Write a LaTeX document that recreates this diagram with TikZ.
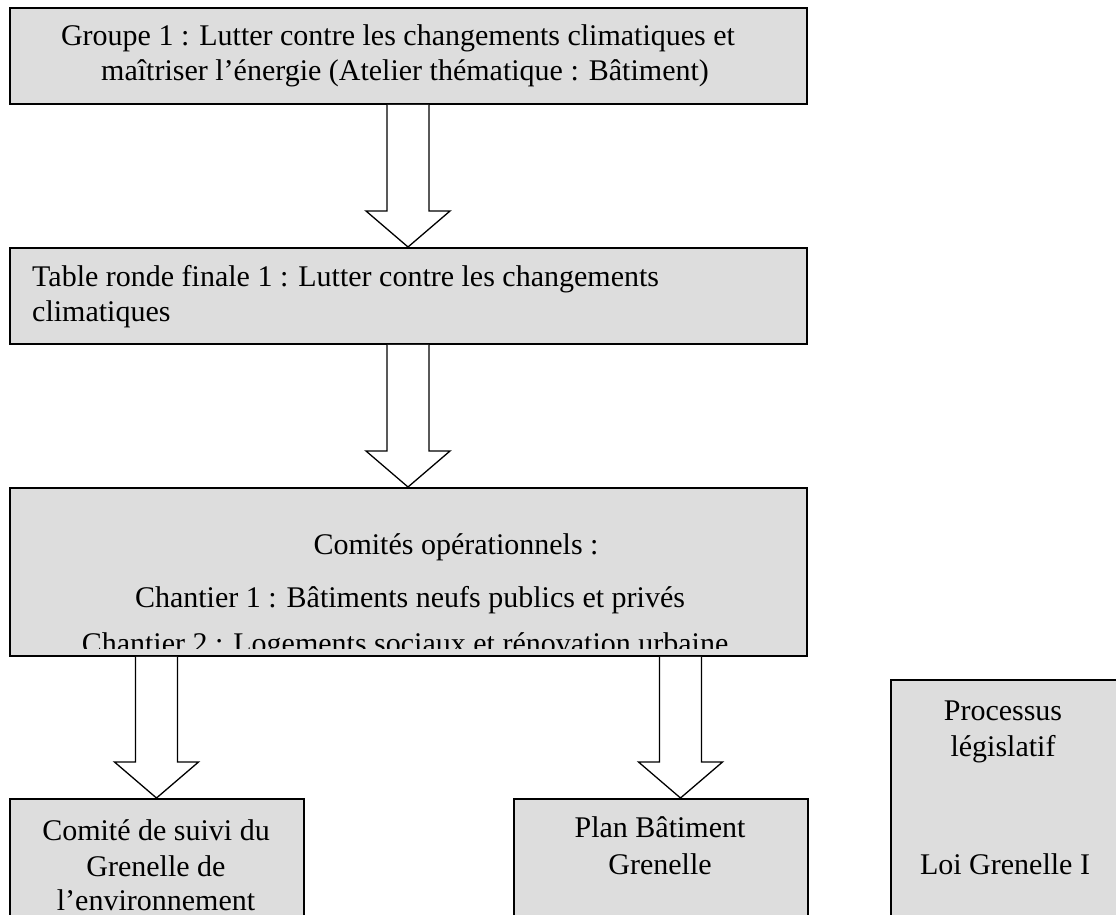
\documentclass[tikz,border=0pt]{standalone}
\usepackage{fontspec}
\setmainfont{Liberation Serif}
\usetikzlibrary{calc}
\definecolor{boxgray}{RGB}{221,221,221}
\newcommand\blockarrow[3]{%
  \draw[blk] let \p1=(#1.south -| #3), \p2=(#2.north -| #3) in
    (\x1-21pt,\y1) -- (\x1-21pt,\y2+36pt) -- (\x1-42pt,\y2+36pt) -- (\x1,\y2)
    -- (\x1+42pt,\y2+36pt) -- (\x1+21pt,\y2+36pt) -- (\x1+21pt,\y1);}
\begin{document}
\begin{tikzpicture}[x=1pt,y=-1pt,
  box/.style={draw=black, fill=boxgray, line width=1.8pt, rectangle, inner sep=0pt, anchor=north west},
  lbl/.style={inner sep=0pt, anchor=base, font=\fontsize{30}{36}\selectfont},
  lblw/.style={lbl, anchor=base west},
  blk/.style={draw=black, fill=white, line width=1.3pt, line join=miter}]
\useasboundingbox (0,0) rectangle (1116,915);
\clip (0,0) rectangle (1116,915);
% boxes
\node[box, minimum width=797pt, minimum height=96pt] (g1) at (9,7) {};
\node[box, minimum width=797pt, minimum height=96pt] (g2) at (9,247) {};
\node[box, minimum width=797pt, minimum height=168pt] (g3) at (9,487) {};
\node[box, minimum width=294pt, minimum height=140pt] (g4) at (9,798) {};
\node[box, minimum width=294pt, minimum height=140pt] (g5) at (513,798) {};
\node[box, minimum width=240pt, minimum height=260pt] (g6) at (890,679) {};
% arrow axes
\coordinate (a1) at (408,0);
\coordinate (a3) at (156.5,0);
\coordinate (a4) at (680.5,0);
\blockarrow{g1}{g2}{a1}
\blockarrow{g2}{g3}{a1}
\blockarrow{g3}{g4}{a3}
\blockarrow{g3}{g5}{a4}
% texts
\node[lbl] (t1a) at (398,46) {Groupe 1 : Lutter contre les changements climatiques et};
\node[lbl] (t1b) at (405,81) {maîtriser l’énergie (Atelier thématique : Bâtiment)};
\node[lblw] (t2a) at (32,286) {Table ronde finale 1 : Lutter contre les changements};
\node[lblw] (t2b) at (32,321) {climatiques};
\begin{scope}
\clip (9,487) rectangle (806,648);
\node[lbl] (t3a) at (456,554) {Comités opérationnels :};
\node[lbl] (t3b) at (410,607) {Chantier 1 : Bâtiments neufs publics et privés};
\node[lbl] (t3c) at (405,653) {Chantier 2 : Logements sociaux et rénovation urbaine};
\end{scope}
\node[lbl] (t4a) at (156,840) {Comité de suivi du};
\node[lbl] (t4b) at (156,876) {Grenelle de};
\node[lbl] (t4c) at (156,910) {l’environnement};
\node[lbl] (t5a) at (660,837) {Plan Bâtiment};
\node[lbl] (t5b) at (660,874) {Grenelle};
\node[lbl] (t6a) at (1003,720) {Processus};
\node[lbl] (t6b) at (1003,756) {législatif};
\node[lbl] (t6c) at (1005,874) {Loi Grenelle I};
\end{tikzpicture}
\end{document}
